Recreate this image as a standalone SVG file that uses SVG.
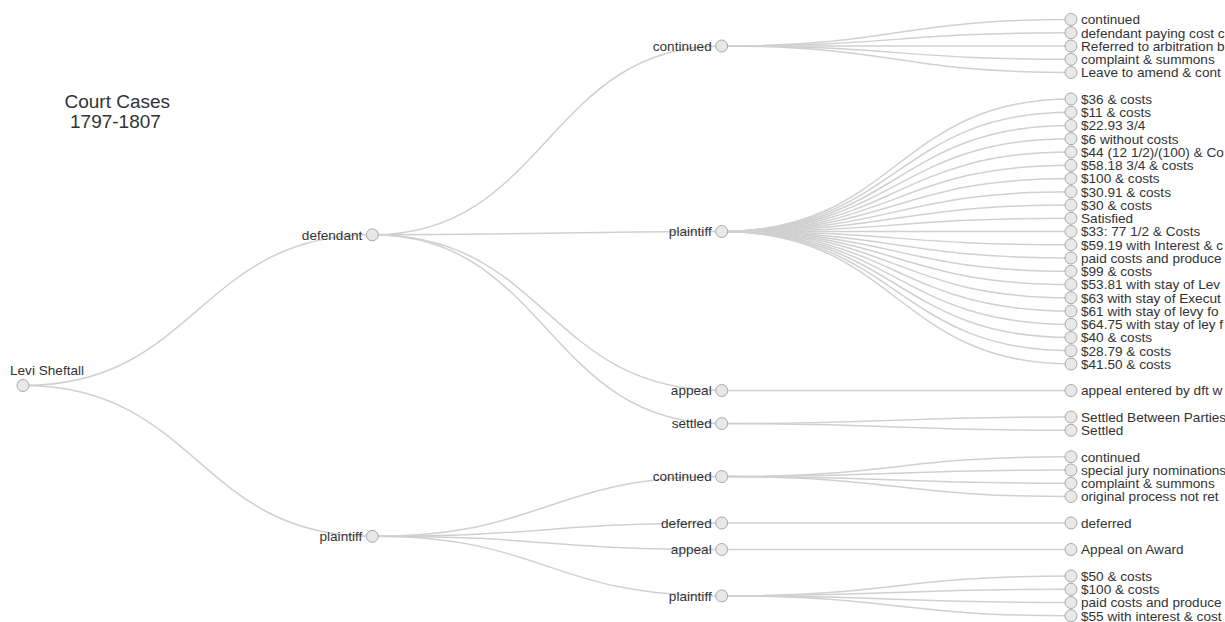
<svg xmlns="http://www.w3.org/2000/svg" width="1225" height="622" viewBox="0 0 1225 622">
<style>
.link{fill:none;stroke:#d0d0d0;stroke-width:1.5}
.node circle{fill:#e8e8e8;stroke:#a8a8a8;stroke-width:1}
.node text{font-family:"Liberation Sans",Arial,sans-serif;font-size:13.6px;fill:#333}
.leaf text{text-anchor:start}
.inner text{text-anchor:end}
.title{font-family:"Liberation Sans",Arial,sans-serif;font-size:19px;fill:#333}
</style>
<rect width="1225" height="622" fill="#fff"/>
<g id="title">
<text class="title" x="64.5" y="107.5">Court Cases</text>
<text class="title" x="70" y="128">1797-1807</text>
</g>
<g id="links">
<path class="link" d="M23,385.5C197.6,385.5 197.6,234.8 372.3,234.8"/>
<path class="link" d="M23,385.5C197.6,385.5 197.6,536.3 372.3,536.3"/>
<path class="link" d="M372.3,234.8C547,234.8 547,46 721.7,46"/>
<path class="link" d="M372.3,234.8C547,234.8 547,231.5 721.7,231.5"/>
<path class="link" d="M372.3,234.8C547,234.8 547,390.5 721.7,390.5"/>
<path class="link" d="M372.3,234.8C547,234.8 547,423.6 721.7,423.6"/>
<path class="link" d="M372.3,536.3C547,536.3 547,476.6 721.7,476.6"/>
<path class="link" d="M372.3,536.3C547,536.3 547,523 721.7,523"/>
<path class="link" d="M372.3,536.3C547,536.3 547,549.5 721.7,549.5"/>
<path class="link" d="M372.3,536.3C547,536.3 547,595.9 721.7,595.9"/>
<path class="link" d="M721.7,46C896.3,46 896.3,19.5 1071,19.5"/>
<path class="link" d="M721.7,46C896.3,46 896.3,32.75 1071,32.75"/>
<path class="link" d="M721.7,46C896.3,46 896.3,46 1071,46"/>
<path class="link" d="M721.7,46C896.3,46 896.3,59.25 1071,59.25"/>
<path class="link" d="M721.7,46C896.3,46 896.3,72.5 1071,72.5"/>
<path class="link" d="M721.7,231.5C896.3,231.5 896.3,99 1071,99"/>
<path class="link" d="M721.7,231.5C896.3,231.5 896.3,112.25 1071,112.25"/>
<path class="link" d="M721.7,231.5C896.3,231.5 896.3,125.5 1071,125.5"/>
<path class="link" d="M721.7,231.5C896.3,231.5 896.3,138.75 1071,138.75"/>
<path class="link" d="M721.7,231.5C896.3,231.5 896.3,152 1071,152"/>
<path class="link" d="M721.7,231.5C896.3,231.5 896.3,165.25 1071,165.25"/>
<path class="link" d="M721.7,231.5C896.3,231.5 896.3,178.5 1071,178.5"/>
<path class="link" d="M721.7,231.5C896.3,231.5 896.3,191.75 1071,191.75"/>
<path class="link" d="M721.7,231.5C896.3,231.5 896.3,205 1071,205"/>
<path class="link" d="M721.7,231.5C896.3,231.5 896.3,218.25 1071,218.25"/>
<path class="link" d="M721.7,231.5C896.3,231.5 896.3,231.5 1071,231.5"/>
<path class="link" d="M721.7,231.5C896.3,231.5 896.3,244.75 1071,244.75"/>
<path class="link" d="M721.7,231.5C896.3,231.5 896.3,258 1071,258"/>
<path class="link" d="M721.7,231.5C896.3,231.5 896.3,271.25 1071,271.25"/>
<path class="link" d="M721.7,231.5C896.3,231.5 896.3,284.5 1071,284.5"/>
<path class="link" d="M721.7,231.5C896.3,231.5 896.3,297.75 1071,297.75"/>
<path class="link" d="M721.7,231.5C896.3,231.5 896.3,311 1071,311"/>
<path class="link" d="M721.7,231.5C896.3,231.5 896.3,324.25 1071,324.25"/>
<path class="link" d="M721.7,231.5C896.3,231.5 896.3,337.5 1071,337.5"/>
<path class="link" d="M721.7,231.5C896.3,231.5 896.3,350.75 1071,350.75"/>
<path class="link" d="M721.7,231.5C896.3,231.5 896.3,364 1071,364"/>
<path class="link" d="M721.7,390.5C896.3,390.5 896.3,390.5 1071,390.5"/>
<path class="link" d="M721.7,423.6C896.3,423.6 896.3,417 1071,417"/>
<path class="link" d="M721.7,423.6C896.3,423.6 896.3,430.25 1071,430.25"/>
<path class="link" d="M721.7,476.6C896.3,476.6 896.3,456.75 1071,456.75"/>
<path class="link" d="M721.7,476.6C896.3,476.6 896.3,470 1071,470"/>
<path class="link" d="M721.7,476.6C896.3,476.6 896.3,483.25 1071,483.25"/>
<path class="link" d="M721.7,476.6C896.3,476.6 896.3,496.5 1071,496.5"/>
<path class="link" d="M721.7,523C896.3,523 896.3,523 1071,523"/>
<path class="link" d="M721.7,549.5C896.3,549.5 896.3,549.5 1071,549.5"/>
<path class="link" d="M721.7,595.9C896.3,595.9 896.3,576 1071,576"/>
<path class="link" d="M721.7,595.9C896.3,595.9 896.3,589.25 1071,589.25"/>
<path class="link" d="M721.7,595.9C896.3,595.9 896.3,602.5 1071,602.5"/>
<path class="link" d="M721.7,595.9C896.3,595.9 896.3,615.75 1071,615.75"/>
</g>
<g id="n-root" class="node" transform="translate(23,385.5)"><circle r="6"/><text x="-13" y="-10.5">Levi Sheftall</text></g>
<g id="n-defendant" class="node inner" transform="translate(372.3,234.8)"><circle r="6"/><text x="-10" dy=".35em">defendant</text></g>
<g id="n-plaintiff" class="node inner" transform="translate(372.3,536.3)"><circle r="6"/><text x="-10" dy=".35em">plaintiff</text></g>
<g id="n-d-continued" class="node inner" transform="translate(721.7,46)"><circle r="6"/><text x="-10" dy=".35em">continued</text></g>
<g id="n-d-plaintiff" class="node inner" transform="translate(721.7,231.5)"><circle r="6"/><text x="-10" dy=".35em">plaintiff</text></g>
<g id="n-d-appeal" class="node inner" transform="translate(721.7,390.5)"><circle r="6"/><text x="-10" dy=".35em">appeal</text></g>
<g id="n-d-settled" class="node inner" transform="translate(721.7,423.6)"><circle r="6"/><text x="-10" dy=".35em">settled</text></g>
<g id="n-p-continued" class="node inner" transform="translate(721.7,476.6)"><circle r="6"/><text x="-10" dy=".35em">continued</text></g>
<g id="n-p-deferred" class="node inner" transform="translate(721.7,523)"><circle r="6"/><text x="-10" dy=".35em">deferred</text></g>
<g id="n-p-appeal" class="node inner" transform="translate(721.7,549.5)"><circle r="6"/><text x="-10" dy=".35em">appeal</text></g>
<g id="n-p-plaintiff" class="node inner" transform="translate(721.7,595.9)"><circle r="6"/><text x="-10" dy=".35em">plaintiff</text></g>
<g id="leaf-0" class="node leaf" transform="translate(1071,19.5)"><circle r="6"/><text x="10" dy=".35em">continued</text></g>
<g id="leaf-1" class="node leaf" transform="translate(1071,32.75)"><circle r="6"/><text x="10" dy=".35em">defendant paying cost c</text></g>
<g id="leaf-2" class="node leaf" transform="translate(1071,46)"><circle r="6"/><text x="10" dy=".35em">Referred to arbitration b</text></g>
<g id="leaf-3" class="node leaf" transform="translate(1071,59.25)"><circle r="6"/><text x="10" dy=".35em">complaint &amp; summons</text></g>
<g id="leaf-4" class="node leaf" transform="translate(1071,72.5)"><circle r="6"/><text x="10" dy=".35em">Leave to amend &amp; cont</text></g>
<g id="leaf-6" class="node leaf" transform="translate(1071,99)"><circle r="6"/><text x="10" dy=".35em">$36 &amp; costs</text></g>
<g id="leaf-7" class="node leaf" transform="translate(1071,112.25)"><circle r="6"/><text x="10" dy=".35em">$11 &amp; costs</text></g>
<g id="leaf-8" class="node leaf" transform="translate(1071,125.5)"><circle r="6"/><text x="10" dy=".35em">$22.93 3/4</text></g>
<g id="leaf-9" class="node leaf" transform="translate(1071,138.75)"><circle r="6"/><text x="10" dy=".35em">$6 without costs</text></g>
<g id="leaf-10" class="node leaf" transform="translate(1071,152)"><circle r="6"/><text x="10" dy=".35em">$44 (12 1/2)/(100) &amp; Co</text></g>
<g id="leaf-11" class="node leaf" transform="translate(1071,165.25)"><circle r="6"/><text x="10" dy=".35em">$58.18 3/4 &amp; costs</text></g>
<g id="leaf-12" class="node leaf" transform="translate(1071,178.5)"><circle r="6"/><text x="10" dy=".35em">$100 &amp; costs</text></g>
<g id="leaf-13" class="node leaf" transform="translate(1071,191.75)"><circle r="6"/><text x="10" dy=".35em">$30.91 &amp; costs</text></g>
<g id="leaf-14" class="node leaf" transform="translate(1071,205)"><circle r="6"/><text x="10" dy=".35em">$30 &amp; costs</text></g>
<g id="leaf-15" class="node leaf" transform="translate(1071,218.25)"><circle r="6"/><text x="10" dy=".35em">Satisfied</text></g>
<g id="leaf-16" class="node leaf" transform="translate(1071,231.5)"><circle r="6"/><text x="10" dy=".35em">$33: 77 1/2 &amp; Costs</text></g>
<g id="leaf-17" class="node leaf" transform="translate(1071,244.75)"><circle r="6"/><text x="10" dy=".35em">$59.19 with Interest &amp; c</text></g>
<g id="leaf-18" class="node leaf" transform="translate(1071,258)"><circle r="6"/><text x="10" dy=".35em">paid costs and produce</text></g>
<g id="leaf-19" class="node leaf" transform="translate(1071,271.25)"><circle r="6"/><text x="10" dy=".35em">$99 &amp; costs</text></g>
<g id="leaf-20" class="node leaf" transform="translate(1071,284.5)"><circle r="6"/><text x="10" dy=".35em">$53.81 with stay of Lev</text></g>
<g id="leaf-21" class="node leaf" transform="translate(1071,297.75)"><circle r="6"/><text x="10" dy=".35em">$63 with stay of Execut</text></g>
<g id="leaf-22" class="node leaf" transform="translate(1071,311)"><circle r="6"/><text x="10" dy=".35em">$61 with stay of levy fo</text></g>
<g id="leaf-23" class="node leaf" transform="translate(1071,324.25)"><circle r="6"/><text x="10" dy=".35em">$64.75 with stay of ley f</text></g>
<g id="leaf-24" class="node leaf" transform="translate(1071,337.5)"><circle r="6"/><text x="10" dy=".35em">$40 &amp; costs</text></g>
<g id="leaf-25" class="node leaf" transform="translate(1071,350.75)"><circle r="6"/><text x="10" dy=".35em">$28.79 &amp; costs</text></g>
<g id="leaf-26" class="node leaf" transform="translate(1071,364)"><circle r="6"/><text x="10" dy=".35em">$41.50 &amp; costs</text></g>
<g id="leaf-28" class="node leaf" transform="translate(1071,390.5)"><circle r="6"/><text x="10" dy=".35em">appeal entered by dft w</text></g>
<g id="leaf-30" class="node leaf" transform="translate(1071,417)"><circle r="6"/><text x="10" dy=".35em">Settled Between Parties</text></g>
<g id="leaf-31" class="node leaf" transform="translate(1071,430.25)"><circle r="6"/><text x="10" dy=".35em">Settled</text></g>
<g id="leaf-33" class="node leaf" transform="translate(1071,456.75)"><circle r="6"/><text x="10" dy=".35em">continued</text></g>
<g id="leaf-34" class="node leaf" transform="translate(1071,470)"><circle r="6"/><text x="10" dy=".35em">special jury nominations</text></g>
<g id="leaf-35" class="node leaf" transform="translate(1071,483.25)"><circle r="6"/><text x="10" dy=".35em">complaint &amp; summons</text></g>
<g id="leaf-36" class="node leaf" transform="translate(1071,496.5)"><circle r="6"/><text x="10" dy=".35em">original process not ret</text></g>
<g id="leaf-38" class="node leaf" transform="translate(1071,523)"><circle r="6"/><text x="10" dy=".35em">deferred</text></g>
<g id="leaf-40" class="node leaf" transform="translate(1071,549.5)"><circle r="6"/><text x="10" dy=".35em">Appeal on Award</text></g>
<g id="leaf-42" class="node leaf" transform="translate(1071,576)"><circle r="6"/><text x="10" dy=".35em">$50 &amp; costs</text></g>
<g id="leaf-43" class="node leaf" transform="translate(1071,589.25)"><circle r="6"/><text x="10" dy=".35em">$100 &amp; costs</text></g>
<g id="leaf-44" class="node leaf" transform="translate(1071,602.5)"><circle r="6"/><text x="10" dy=".35em">paid costs and produce</text></g>
<g id="leaf-45" class="node leaf" transform="translate(1071,615.75)"><circle r="6"/><text x="10" dy=".35em">$55 with interest &amp; cost</text></g>
</svg>
